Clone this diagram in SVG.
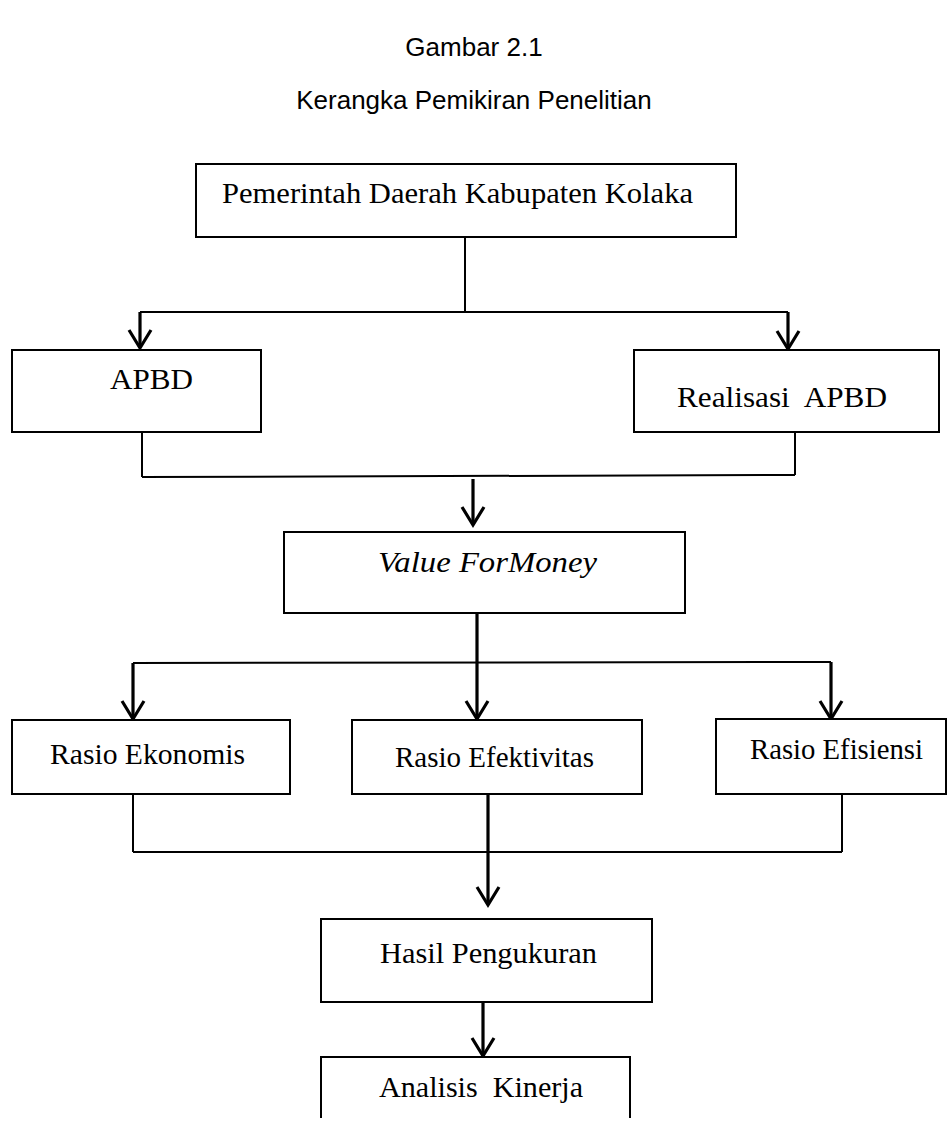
<svg xmlns="http://www.w3.org/2000/svg" width="948" height="1123" viewBox="0 0 948 1123">
<style>
.title{font-family:"Liberation Sans",Arial,sans-serif;font-size:26px;fill:#000;text-anchor:middle}
.lbl{font-family:"Liberation Serif","Times New Roman",serif;font-size:30px;fill:#000;white-space:pre}
.box{fill:#fff;stroke:#000;stroke-width:2}
.thin{stroke:#000;stroke-width:2;fill:none}
.thick{stroke:#000;stroke-width:3.2;fill:none}
.arr{stroke:#000;stroke-width:3.2;fill:none;marker-end:url(#v)}
</style>
<defs>
<marker id="v" markerUnits="userSpaceOnUse" markerWidth="40" markerHeight="40" refX="0" refY="0" orient="auto" overflow="visible">
<path d="M-18,-11 L0,0 L-18,11" fill="none" stroke="#000" stroke-width="3.2" stroke-linejoin="miter"/>
</marker>
</defs>
<rect width="948" height="1123" fill="#fff"/>
<g id="titles">
<text class="title" x="474" y="56">Gambar 2.1</text>
<text class="title" x="474" y="109">Kerangka Pemikiran Penelitian</text>
</g>
<g id="connectors">
<line class="thin" x1="465" y1="237" x2="465" y2="312"/>
<line class="thin" x1="140" y1="312" x2="788" y2="312"/>
<line class="arr" x1="140" y1="312" x2="140" y2="348"/>
<line class="arr" x1="788" y1="312" x2="788" y2="349"/>
<line class="thin" x1="142" y1="432" x2="142" y2="477"/>
<line class="thin" x1="142" y1="477" x2="795" y2="475"/>
<line class="thin" x1="795" y1="433" x2="795" y2="475"/>
<line class="arr" x1="473" y1="479" x2="473" y2="525"/>
<line class="arr" x1="477" y1="613" x2="477" y2="719"/>
<line class="thin" x1="133" y1="663" x2="831" y2="662"/>
<line class="arr" x1="133" y1="663" x2="133" y2="719"/>
<line class="arr" x1="831" y1="662" x2="831" y2="719"/>
<line class="thin" x1="133" y1="785" x2="133" y2="852"/>
<line class="thin" x1="133" y1="852" x2="842" y2="852"/>
<line class="thin" x1="842" y1="783" x2="842" y2="852"/>
<line class="arr" x1="488" y1="786" x2="488" y2="905"/>
<line class="arr" x1="483" y1="1002" x2="483" y2="1056"/>
</g>
<g id="pemda">
<rect class="box" x="196" y="164" width="540" height="73"/>
<text class="lbl" x="222" y="203" textLength="471" lengthAdjust="spacingAndGlyphs">Pemerintah Daerah Kabupaten Kolaka</text>
</g>
<g id="apbd">
<rect class="box" x="12" y="350" width="249" height="82"/>
<text class="lbl" x="110" y="389" textLength="83" lengthAdjust="spacingAndGlyphs">APBD</text>
</g>
<g id="realisasi">
<rect class="box" x="634" y="350" width="305" height="82"/>
<text class="lbl" x="677" y="407" textLength="210" lengthAdjust="spacingAndGlyphs">Realisasi  APBD</text>
</g>
<g id="vfm">
<rect class="box" x="284" y="532" width="401" height="81"/>
<text class="lbl" x="378" y="572" font-style="italic" textLength="219" lengthAdjust="spacingAndGlyphs">Value ForMoney</text>
</g>
<g id="ekonomis">
<rect class="box" x="12" y="720" width="278" height="74"/>
<text class="lbl" x="50" y="764" textLength="195" lengthAdjust="spacingAndGlyphs">Rasio Ekonomis</text>
</g>
<g id="efektivitas">
<rect class="box" x="352" y="720" width="290" height="74"/>
<text class="lbl" x="395" y="767" textLength="199" lengthAdjust="spacingAndGlyphs">Rasio Efektivitas</text>
</g>
<g id="efisiensi">
<rect class="box" x="716" y="719" width="230" height="75"/>
<text class="lbl" x="750" y="759" textLength="173" lengthAdjust="spacingAndGlyphs">Rasio Efisiensi</text>
</g>
<g id="hasil">
<rect class="box" x="321" y="919" width="331" height="83"/>
<text class="lbl" x="380" y="963" textLength="217" lengthAdjust="spacingAndGlyphs">Hasil Pengukuran</text>
</g>
<g id="analisis">
<path class="box" d="M321,1118 V1057 H630 V1118" fill="none"/>
<text class="lbl" x="379" y="1097" textLength="204" lengthAdjust="spacingAndGlyphs">Analisis  Kinerja</text>
</g>
</svg>
